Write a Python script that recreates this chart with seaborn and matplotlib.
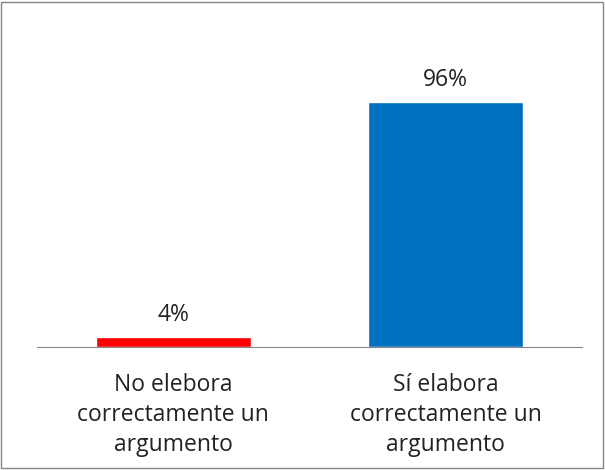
import matplotlib
matplotlib.use("Agg")
import matplotlib.pyplot as plt
import seaborn as sns
import pandas as pd
from matplotlib.patches import Rectangle

# datos
categorias = ["No elebora\ncorrectamente un\nargumento", "Sí elabora\ncorrectamente un\nargumento"]
valores = [0.04, 0.96]
etiquetas = ["4%", "96%"]
colores = ["#FF0000", "#0070C0"]

df = pd.DataFrame({"cat": categorias, "val": valores})

sns.set_style("white")
plt.rcParams["font.family"] = ["Open Sans", "DejaVu Sans"]

fig = plt.figure(figsize=(6.05, 4.70), dpi=100)
ax = fig.add_axes([37 / 605, 123 / 470, 545 / 605, 300 / 470])

sns.barplot(data=df, x="cat", y="val", hue="cat", palette=colores,
            width=0.57, legend=False, ax=ax, saturation=1)

ax.set_ylim(0, 0.96 * 300 / 245)
ax.set_xlim(-0.5, 1.5)

for i, (v, t) in enumerate(zip(valores, etiquetas)):
    ax.text(i, v + 0.04, t, ha="center", va="bottom", fontsize=16.5, color="#222222")

for s in ["top", "right", "left"]:
    ax.spines[s].set_visible(False)
ax.spines["bottom"].set_color("#868686")
ax.set_yticks([])
ax.set_xlabel("")
ax.set_ylabel("")
ax.tick_params(axis="x", length=0, pad=19, labelsize=16.5, labelcolor="#222222")
for lbl in ax.get_xticklabels():
    lbl.set_linespacing(1.33)

fig.patches.append(Rectangle((0.002, 0.004), 0.995, 0.992, transform=fig.transFigure,
                             fill=False, edgecolor="#868686", linewidth=1))

fig.savefig("out.png", dpi=100)
